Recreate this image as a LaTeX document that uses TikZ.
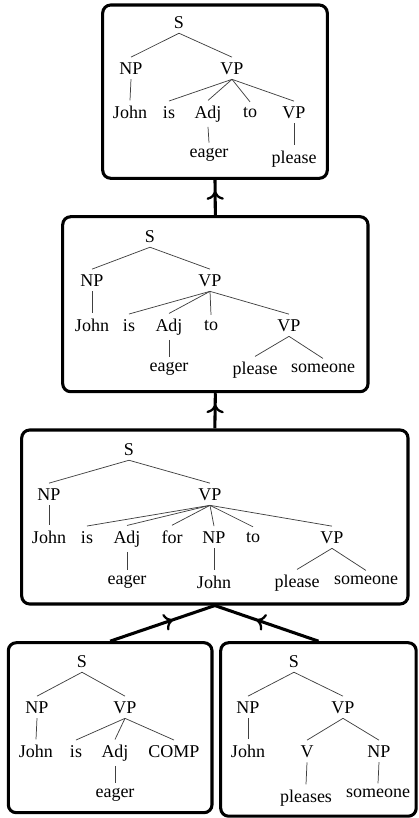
\documentclass[tikz,border=0pt]{standalone}
\usepackage{fontspec}
\setmainfont{Liberation Serif}
\usetikzlibrary{fit}
\usetikzlibrary{arrows.meta}
\usetikzlibrary{decorations.markings}

\tikzset{
  tn/.style={anchor=base, inner xsep=1pt, inner ysep=3.6pt, font=\fontsize{13.5}{16}\selectfont},
  br/.style={line width=0.55pt, color=black!75},
  box/.style={draw, line width=2.3pt, rounded corners=6pt, inner sep=0pt},
  link/.style={line width=2.3pt, postaction={decorate},
    decoration={markings, mark=at position #1 with {\arrow{Computer Modern Rightarrow[length=6.5pt,width=13pt,line width=1.7pt]}}}},
}

\begin{document}
\begin{tikzpicture}[x=0.75pt,y=0.75pt,yscale=-1,xscale=1]
\useasboundingbox (0,0) rectangle (418,818);

%Shape: Boxes
\node [box, fit={(102.7,5) (327.3,178.3)}] (box1) {};
\node [box, fit={(62.7,216.7) (368,391.7)}] (box2) {};
\node [box, fit={(21.7,430) (408,604)}] (box3) {};
\node [box, fit={(8.3,642.7) (212,812.7)}] (box4) {};
\node [box, fit={(220.7,642.7) (416.2,816.2)}] (box5) {};

% Tree 1
\node [tn] (aS) at (179,28) {S};
\node [tn] (aNP) at (131,74) {NP};
\node [tn] (aVP) at (232,74) {VP};
\node [tn] (aJohn) at (130,118) {John};
\node [tn] (ais) at (169,118) {is};
\node [tn] (aAdj) at (208,118) {Adj};
\node [tn] (ato) at (250,117) {to};
\node [tn] (aVPb) at (294,118) {VP};
\node [tn] (aeager) at (209,157) {eager};
\node [tn] (aplease) at (294,163) {please};
\draw [br] (aS.south) -- (aNP.north);
\draw [br] (aS.south) -- (aVP.north);
\draw [br] (aNP.south) -- (aJohn.north);
\foreach \c in {ais,aAdj,ato,aVPb} \draw [br] (aVP.south) -- (\c.north);
\draw [br] (aAdj.south) -- (aeager.north);
\draw [br] (aVPb.south) -- (aplease.north);

% Tree 2
\node [tn] (bS) at (150,242) {S};
\node [tn] (bNP) at (92,286) {NP};
\node [tn] (bVP) at (210,286) {VP};
\node [tn] (bJohn) at (92,331) {John};
\node [tn] (bis) at (129,331) {is};
\node [tn] (bAdj) at (169,331) {Adj};
\node [tn] (bto) at (211,330) {to};
\node [tn] (bVPb) at (289,331) {VP};
\node [tn] (beager) at (169,371) {eager};
\node [tn] (bplease) at (255,374) {please};
\node [tn] (bsomeone) at (323,372) {someone};
\draw [br] (bS.south) -- (bNP.north);
\draw [br] (bS.south) -- (bVP.north);
\draw [br] (bNP.south) -- (bJohn.north);
\foreach \c in {bis,bAdj,bto,bVPb} \draw [br] (bVP.south) -- (\c.north);
\draw [br] (bAdj.south) -- (beager.north);
\draw [br] (bVPb.south) -- (bplease.north);
\draw [br] (bVPb.south) -- (bsomeone.north);

% Tree 3
\node [tn] (cS) at (129,455) {S};
\node [tn] (cNP) at (49,500) {NP};
\node [tn] (cVP) at (210,500) {VP};
\node [tn] (cJohn) at (49,543) {John};
\node [tn] (cis) at (87,543) {is};
\node [tn] (cAdj) at (127,543) {Adj};
\node [tn] (cfor) at (172,543) {for};
\node [tn] (cNPb) at (214,543) {NP};
\node [tn] (cto) at (253,542) {to};
\node [tn] (cVPb) at (332,543) {VP};
\node [tn] (ceager) at (127,584) {eager};
\node [tn] (cJohnb) at (214,588) {John};
\node [tn] (cplease) at (297,587) {please};
\node [tn] (csomeone) at (366,584) {someone};
\draw [br] (cS.south) -- (cNP.north);
\draw [br] (cS.south) -- (cVP.north);
\draw [br] (cNP.south) -- (cJohn.north);
\foreach \c in {cis,cAdj,cfor,cNPb,cto,cVPb} \draw [br] (cVP.south) -- (\c.north);
\draw [br] (cAdj.south) -- (ceager.north);
\draw [br] (cNPb.south) -- (cJohnb.north);
\draw [br] (cVPb.south) -- (cplease.north);
\draw [br] (cVPb.south) -- (csomeone.north);

% Tree 4
\node [tn] (dS) at (82,667) {S};
\node [tn] (dNP) at (37,713) {NP};
\node [tn] (dVP) at (125,713) {VP};
\node [tn] (dJohn) at (36,757) {John};
\node [tn] (dis) at (76,757) {is};
\node [tn] (dAdj) at (115,757) {Adj};
\node [tn] (dCOMP) at (174,757) {COMP};
\node [tn] (deager) at (115,797) {eager};
\draw [br] (dS.south) -- (dNP.north);
\draw [br] (dS.south) -- (dVP.north);
\draw [br] (dNP.south) -- (dJohn.north);
\foreach \c in {dis,dAdj,dCOMP} \draw [br] (dVP.south) -- (\c.north);
\draw [br] (dAdj.south) -- (deager.north);

% Tree 5
\node [tn] (eS) at (294,667) {S};
\node [tn] (eNP) at (248,713) {NP};
\node [tn] (eVP) at (343,713) {VP};
\node [tn] (eJohn) at (248,757) {John};
\node [tn] (eV) at (307,757) {V};
\node [tn] (eNPb) at (379,757) {NP};
\node [tn] (epleases) at (306,802) {pleases};
\node [tn] (esomeone) at (378,797) {someone};
\draw [br] (eS.south) -- (eNP.north);
\draw [br] (eS.south) -- (eVP.north);
\draw [br] (eNP.south) -- (eJohn.north);
\draw [br] (eVP.south) -- (eV.north);
\draw [br] (eVP.south) -- (eNPb.north);
\draw [br] (eV.south) -- (epleases.north);
\draw [br] (eNPb.south) -- (esomeone.north);

% Connections
\draw [link=0.68] (box2.north) -- (box1.south);
\draw [link=0.68] (box3.north) -- (box2.south);
\draw [link=0.6] (box4.north) -- (box3.south);
\draw [link=0.6] (box5.north) -- (box3.south);

\end{tikzpicture}
\end{document}
